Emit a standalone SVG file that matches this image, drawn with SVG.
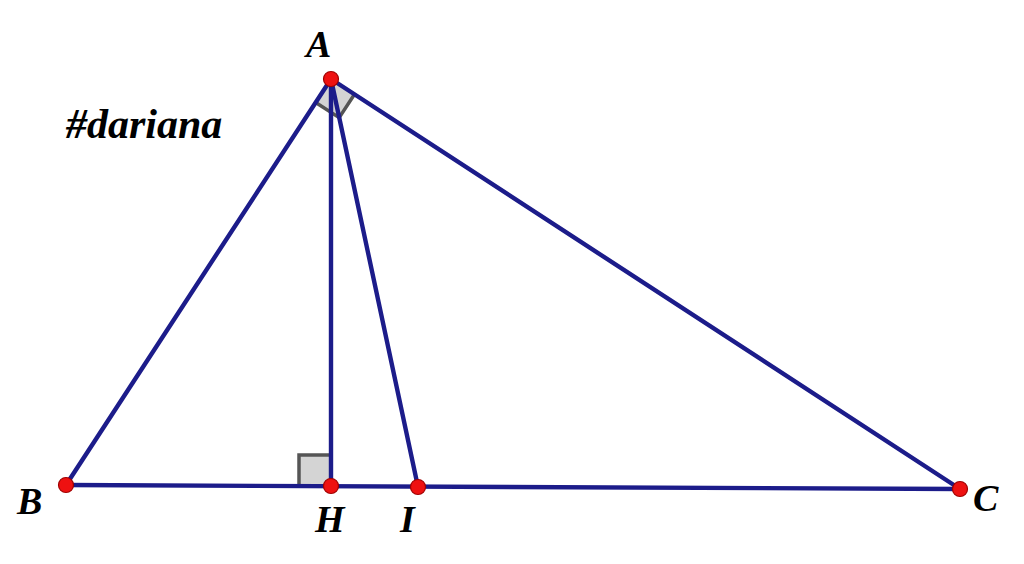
<svg xmlns="http://www.w3.org/2000/svg" width="1024" height="564" viewBox="0 0 1024 564">
<style>
.ln{stroke:#1c1c8a;stroke-width:4.4;fill:none;stroke-linecap:round}
.ra{fill:#d4d4d4;stroke:#555;stroke-width:3.5}
.pt{fill:#ee1111;stroke:#a00000;stroke-width:1.2}
.lb{font-family:"Liberation Serif","Times New Roman",serif;font-weight:bold;font-style:italic;font-size:38px;fill:#000}
</style>
<rect width="1024" height="564" fill="#fff"/>
<g id="marks">
<path d="M331,79 L315.7,102.5 L339.2,117.7 L354.5,94.3 Z" fill="#d4d4d4"/>
<polyline points="315.7,102.5 339.2,117.7 354.5,94.3" fill="none" stroke="#555" stroke-width="3.5"/>
<rect x="299" y="455" width="32" height="31" fill="#d4d4d4"/>
<polyline points="299,486 299,455 331,455" fill="none" stroke="#555" stroke-width="3.5"/>
</g>
<g id="connectors">
<line class="ln" x1="331" y1="79" x2="66" y2="485"/>
<line class="ln" x1="331" y1="79" x2="960" y2="489"/>
<line class="ln" x1="66" y1="485" x2="960" y2="489"/>
<line class="ln" x1="331" y1="79" x2="331" y2="486"/>
<line class="ln" x1="331" y1="79" x2="418" y2="487"/>
</g>
<g id="A"><circle class="pt" cx="331" cy="79" r="7.5"/><text class="lb" x="306" y="57">A</text></g>
<g id="B"><circle class="pt" cx="66" cy="485" r="7.5"/><text class="lb" x="17" y="514">B</text></g>
<g id="H"><circle class="pt" cx="331" cy="486" r="7.5"/><text class="lb" x="315" y="532">H</text></g>
<g id="I"><circle class="pt" cx="418" cy="487" r="7.5"/><text class="lb" x="400" y="532">I</text></g>
<g id="C"><circle class="pt" cx="960" cy="489" r="7.5"/><text class="lb" x="973" y="511">C</text></g>
<text class="lb" x="66" y="138" style="font-size:42px">#dariana</text>
</svg>
